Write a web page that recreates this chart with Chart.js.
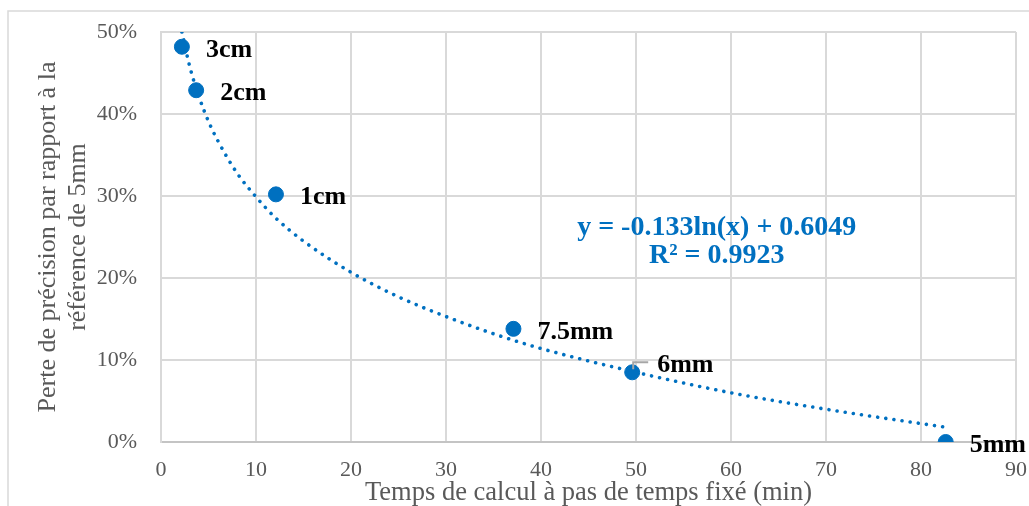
<!DOCTYPE html>
<html>
<head>
<meta charset="utf-8">
<script src="https://cdn.jsdelivr.net/npm/chart.js@4/dist/chart.umd.min.js"></script>
<style>
  body { margin: 0; background: #fff; }
  .wrap { position: relative; width: 1029px; height: 506px; }
</style>
</head>
<body>
<div class="wrap"><canvas id="chart"></canvas></div>
<script>
// values
const pointLabels = ['3cm', '2cm', '1cm', '7.5mm', '6mm', '5mm']
const calcTime = [2.2, 3.7, 12.1, 37.1, 49.6, 82.6]
const precisionLoss = [48.2, 42.9, 30.2, 13.8, 8.5, 0.0]

const trendX = [2.2, 3, 4, 5, 6, 8, 10, 12, 15, 20, 25, 30, 35, 40, 50, 60, 70, 82.6]
const trendY = [50.0, 45.9, 42.1, 39.1, 36.7, 32.8, 29.9, 27.4, 24.5, 20.7, 17.7, 15.3, 13.2, 11.4, 8.5, 6.0, 4.0, 1.8]

const xTicks = [0, 10, 20, 30, 40, 50, 60, 70, 80, 90]
const yTicks = [0, 10, 20, 30, 40, 50]

const equation = ['y = -0.133ln(x) + 0.6049', 'R² = 0.9923']

const blue = '#0070C0'
const grey = '#595959'
const serif = '"Liberation Serif", "Times New Roman", serif'

const toXY = (xs, ys) => xs.map((x, i) => ({ x: x, y: ys[i] }))

const frame = {
    id: 'frame',
    beforeDraw(chart) {
        let ctx = chart.ctx
        ctx.save()
        ctx.strokeStyle = '#d9d9d9'
        ctx.lineWidth = 1.5
        ctx.strokeRect(8, 11, 1060, 540)
        ctx.restore()
    }
}

const annotate = {
    id: 'annotate',
    afterDatasetsDraw(chart) {
        let ctx = chart.ctx
        let pts = chart.getDatasetMeta(1).data
        ctx.save()

        // leader line for 6mm
        let p6 = pts[4]
        ctx.strokeStyle = '#a6a6a6'
        ctx.lineWidth = 2
        ctx.beginPath()
        ctx.moveTo(p6.x + 1, p6.y - 3)
        ctx.lineTo(p6.x + 1, p6.y - 10)
        ctx.lineTo(p6.x + 16, p6.y - 10)
        ctx.stroke()

        ctx.fillStyle = '#000'
        ctx.font = 'bold 26px ' + serif
        ctx.textAlign = 'left'
        ctx.textBaseline = 'alphabetic'
        for (let i = 0; i < pts.length; i++) {
            let dx = 24, dy = 10
            if (i === 4) { dx = 25; dy = 0 }
            ctx.fillText(pointLabels[i], pts[i].x + dx, pts[i].y + dy)
        }

        let xs = chart.scales.x, ys = chart.scales.y
        ctx.fillStyle = blue
        ctx.font = 'bold 28px ' + serif
        ctx.textAlign = 'center'
        ctx.fillText(equation[0], xs.getPixelForValue(58.5), ys.getPixelForValue(25.2))
        ctx.fillText(equation[1], xs.getPixelForValue(58.5), ys.getPixelForValue(21.8))
        ctx.restore()
    }
}

new Chart(document.getElementById('chart'), {
    type: 'scatter',
    data: {
        datasets: [
            {
                label: 'trend',
                type: 'line',
                data: toXY(trendX, trendY),
                borderColor: blue,
                borderWidth: 3.6,
                borderDash: [0.01, 8.2],
                borderCapStyle: 'round',
                cubicInterpolationMode: 'monotone',
                pointRadius: 0,
                fill: false
            },
            {
                label: 'points',
                data: toXY(calcTime, precisionLoss),
                backgroundColor: blue,
                borderColor: blue,
                pointRadius: 7.5,
                pointHoverRadius: 7.5
            }
        ]
    },
    options: {
        responsive: true,
        maintainAspectRatio: false,
        animation: false,
        layout: { padding: { top: 32, right: 13, left: 0, bottom: 0 } },
        plugins: {
            legend: { display: false },
            tooltip: { enabled: false }
        },
        scales: {
            x: {
                type: 'linear',
                min: 0,
                max: 90,
                afterBuildTicks: s => { s.ticks = xTicks.map(v => ({ value: v })) },
                afterFit: s => {
                    s.height = 64
                    s.paddingLeft = 0
                    s.paddingRight = 0
                },
                grid: { color: '#d9d9d9', lineWidth: 2, drawTicks: false },
                border: { color: '#c4c4c4', width: 2 },
                ticks: { color: grey, padding: 15, font: { family: serif, size: 22 } },
                title: {
                    display: true,
                    text: 'Temps de calcul à pas de temps fixé (min)',
                    color: grey,
                    font: { family: serif, size: 26.5, lineHeight: 1.2 },
                    padding: { top: 0, bottom: -3 }
                }
            },
            y: {
                min: 0,
                max: 50,
                afterBuildTicks: s => { s.ticks = yTicks.map(v => ({ value: v })) },
                afterFit: s => {
                    s.width = 161
                    s.paddingTop = 0
                    s.paddingBottom = 0
                },
                grid: { color: '#d9d9d9', lineWidth: 2, drawTicks: false },
                border: { color: '#d9d9d9', width: 2 },
                ticks: {
                    color: grey,
                    padding: 24,
                    font: { family: serif, size: 22 },
                    callback: v => v + '%'
                },
                title: {
                    display: true,
                    text: ['Perte de précision par rapport à la', 'référence de 5mm'],
                    color: grey,
                    font: { family: serif, size: 26, lineHeight: '30px' },
                    padding: { top: 33, bottom: 0 }
                }
            }
        }
    },
    plugins: [frame, annotate]
})
</script>
</body>
</html>
